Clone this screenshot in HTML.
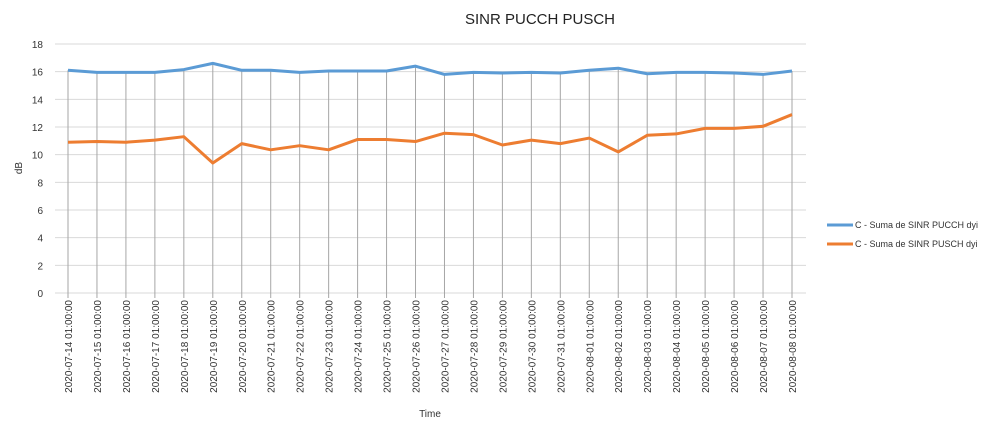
<!DOCTYPE html>
<html><head><meta charset="utf-8"><style>
body{margin:0;background:#fff;}
svg{font-family:"Liberation Sans",sans-serif;}
</style></head><body>
<svg id="chart" width="999" height="428">
<text x="540" y="24" font-size="15" text-anchor="middle" fill="#222">SINR PUCCH PUSCH</text>
<g id="grid"></g><g id="ticks"></g><g id="series"></g>
<text x="22" y="168" font-size="10" text-anchor="middle" transform="rotate(-90 22 168)" fill="#333">dB</text>
<text x="430" y="417" font-size="10" text-anchor="middle" fill="#333">Time</text>
<g>
<line x1="827" y1="225" x2="853" y2="225" stroke="#5b9bd5" stroke-width="3"/>
<text x="855" y="228" font-size="9" fill="#333">C - Suma de SINR PUCCH dyi</text>
<line x1="827" y1="244" x2="853" y2="244" stroke="#ed7d31" stroke-width="3"/>
<text x="855" y="247" font-size="9" fill="#333">C - Suma de SINR PUSCH dyi</text>
</g>
</svg>
<script>
const categories=["2020-07-14","2020-07-15","2020-07-16","2020-07-17","2020-07-18","2020-07-19","2020-07-20","2020-07-21","2020-07-22","2020-07-23","2020-07-24","2020-07-25","2020-07-26","2020-07-27","2020-07-28","2020-07-29","2020-07-30","2020-07-31","2020-08-01","2020-08-02","2020-08-03","2020-08-04","2020-08-05","2020-08-06","2020-08-07","2020-08-08"];
const pucch=[16.1,15.95,15.95,15.95,16.15,16.6,16.1,16.1,15.95,16.05,16.05,16.05,16.4,15.8,15.95,15.9,15.95,15.9,16.1,16.25,15.85,15.95,15.95,15.9,15.8,16.05];
const pusch=[10.9,10.95,10.9,11.05,11.3,9.4,10.8,10.35,10.65,10.35,11.1,11.1,10.95,11.55,11.45,10.7,11.05,10.8,11.2,10.2,11.4,11.5,11.9,11.9,12.05,12.9];
const yTicks=[0,2,4,6,8,10,12,14,16,18];
const NS="http://www.w3.org/2000/svg";
const x0=68,x1=792,yBase=293,yTop=44,yMax=18,left=55,right=806;
const xs=i=>x0+i*(x1-x0)/(categories.length-1);
const ys=v=>yBase-v*(yBase-yTop)/yMax;
function mk(t,a,p){const e=document.createElementNS(NS,t);for(const k in a)e.setAttribute(k,a[k]);p.appendChild(e);return e;}
const grid=document.getElementById('grid'),ticks=document.getElementById('ticks'),ser=document.getElementById('series');
yTicks.forEach(v=>{
const l=mk('line',{x1:left,x2:right,y1:ys(v),y2:ys(v),stroke:'#d9d9d9','stroke-width':1},grid);


const t=mk('text',{x:43,y:ys(v)+4,'font-size':10,'text-anchor':'end',fill:'#333'},ticks);
t.textContent=v;


});
categories.forEach((c,i)=>{
const l=mk('line',{x1:xs(i),x2:xs(i),y1:ys(pucch[i]),y2:yBase+5,stroke:'#a6a6a6','stroke-width':1},grid);


const t=mk('text',{x:0,y:0,'font-size':10,'text-anchor':'end',fill:'#333',transform:`translate(${xs(i)+4},300) rotate(-90)`},ticks);
t.textContent=c+" 01:00:00";


});
function line(d,col,name){
const p=mk('polyline',{points:d.map((v,i)=>xs(i)+','+ys(v)).join(' '),fill:'none',stroke:col,'stroke-width':3,'stroke-linejoin':'round'},ser);


}
line(pucch,'#5b9bd5','line-pucch');
line(pusch,'#ed7d31','line-pusch');
</script>
</body></html>
